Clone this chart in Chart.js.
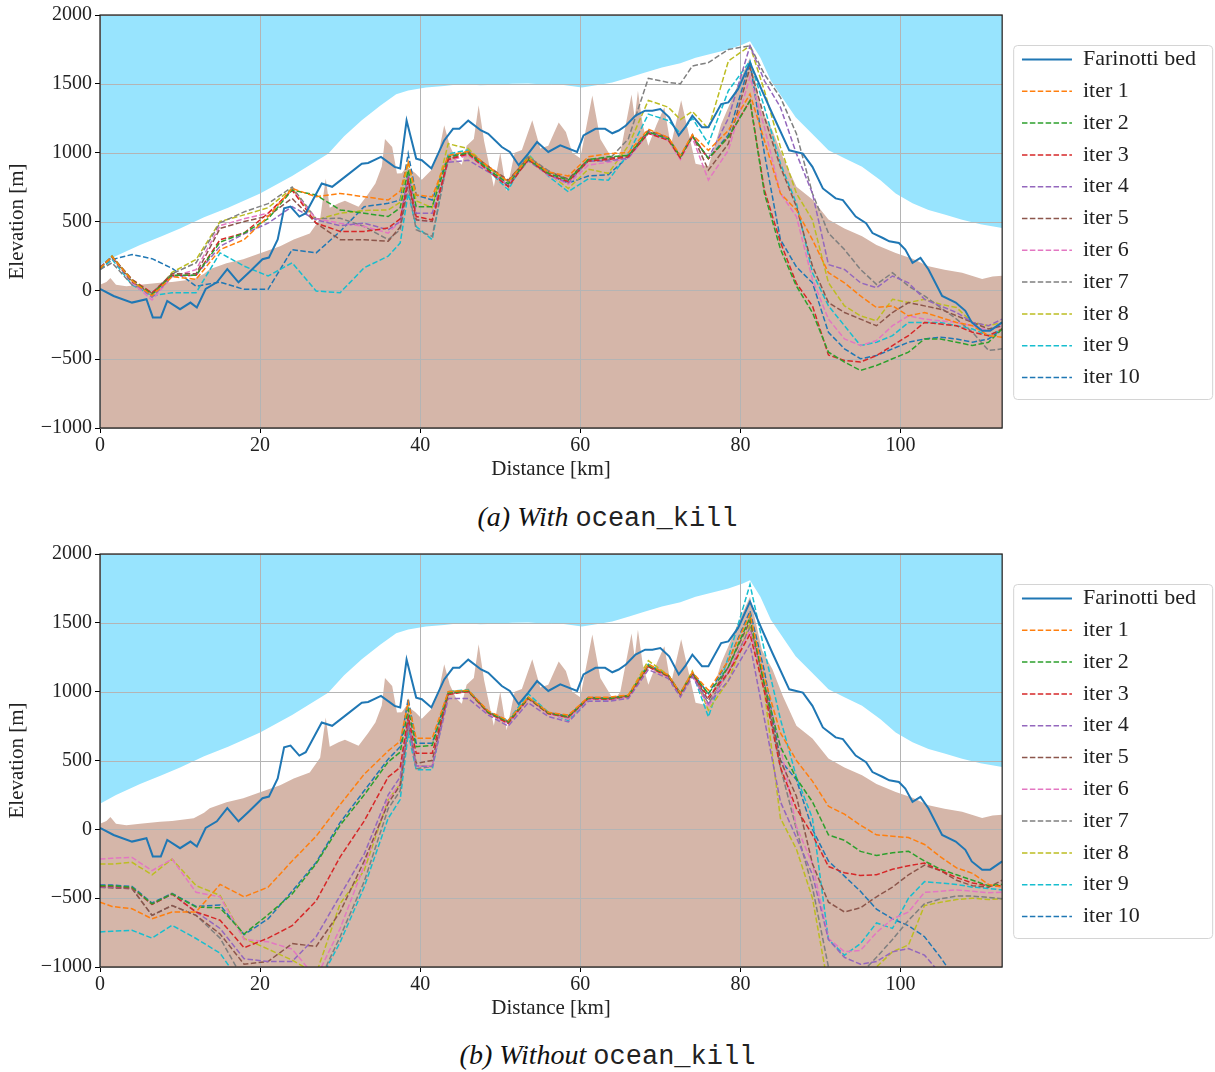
<!DOCTYPE html>
<html>
<head>
<meta charset="utf-8">
<title>Bed inversion profiles</title>
<script src="https://cdn.jsdelivr.net/npm/chart.js@4.4.1/dist/chart.umd.min.js"></script>
<style>
  body { margin: 0; background: #fff; width: 1215px; height: 1072px; position: relative; overflow: hidden; }
  canvas { position: absolute; left: 0; }
  #profileA { top: 0; }
  #profileB { top: 539px; }
  .caption {
    position: absolute; left: 0; width: 1215px; text-align: center;
    font-family: 'Liberation Serif', serif; font-style: italic; font-size: 28px;
    line-height: 32px; color: #111;
  }
  .caption code { font-family: 'Liberation Mono', monospace; font-style: normal; font-size: 27px; color: #222; }
</style>
</head>
<body>
<canvas id="profileA" width="1215" height="486"></canvas>
<div class="caption" style="top:501px">(a) With <code>ocean_kill</code></div>
<canvas id="profileB" width="1215" height="486"></canvas>
<div class="caption" style="top:1039px">(b) Without <code>ocean_kill</code></div>

<script>
// distance along the flowline [km] where the inversion iterates are sampled
const DIST = [0, 1.5, 4, 6.5, 9, 12, 15, 18, 21, 24, 27, 30, 33, 36, 37.5, 38.5, 39.5,
  41.5, 43.5, 46, 48.5, 51, 53.5, 56, 58.5, 61, 63.5, 66, 68.5, 71, 72.5, 74, 76, 78.5, 81.2,
  83, 85, 87, 89, 91, 93, 95, 97, 99, 101, 103, 105, 107, 109, 111, 112.7];

// axis ticks
const DIST_TICKS = [0, 20, 40, 60, 80, 100];
const ELEV_TICKS = [-1000, -500, 0, 500, 1000, 1500, 2000];

// ice surface elevation [m]
const SURF_X = [0, 2, 5, 7.7, 10, 13, 16, 20, 24, 28.5, 30.5, 32.7, 35, 37, 38.5, 40.7, 43, 45.2, 47.5, 49.4,
  51.5, 53.5, 55.5, 57.7, 60.2, 62, 64, 66.1, 68, 70.2, 72.5, 74.4, 76.5, 78.5, 80.3, 81.2, 82.5, 83.8,
  86.9, 89.8, 91, 93, 95.2, 97.5, 99.4, 101.5, 103.5, 105.5, 107.7, 110, 112.7];
const SURF_Y = [185, 250, 330, 392, 450, 530, 600, 704, 830, 993, 1120, 1236, 1340, 1425, 1452, 1474, 1485, 1498, 1490, 1493,
  1500, 1503, 1495, 1493, 1474, 1490, 1510, 1546, 1580, 1618, 1650, 1690, 1720, 1750, 1785, 1810, 1690, 1522,
  1257, 1089, 1017, 960, 897, 800, 704, 632, 584, 550, 512, 480, 452];

// bed topography [m]
const BED_X = [0, 0.8, 1.3, 2, 3.3, 5, 7.5, 9, 11.7, 13, 13.7, 15.8, 17.9, 20, 22.5, 24.2, 26.2, 27.5, 28.2, 28.7,
  29.8, 30.6, 32.3, 33.5, 34.4, 35.2, 35.6, 36.5, 37.1, 37.7, 38.3, 39.4, 40.2, 41.4, 42.3, 43, 43.7, 44.5, 45.2, 45.8,
  46.7, 47.3, 48, 49.2, 50, 50.8, 51.8, 52.7, 54, 55, 56, 57.3, 58.2, 59, 60, 61.5, 62.5, 64.2, 65, 66.4,
  66.8, 67.2, 67.8, 68.5, 69.5, 70.5, 71.3, 72.6, 73.5, 74.4, 76, 77.6, 78.5, 79.7, 81.2, 82.7, 84, 85.3, 87, 89,
  91, 93, 95.2, 97, 99.4, 101.5, 103.5, 105.5, 107.7, 110.2, 111.5, 112.7];
const BED_Y = [40, 60, 90, 40, 30, 40, 55, 60, 80, 120, 154, 197, 226, 269, 320, 370, 413, 520, 812, 600,
  632, 650, 608, 700, 776, 900, 1100, 1041, 848, 850, 900, 850, 803, 875, 1000, 1200, 1050, 950, 912, 1050,
  1100, 1344, 1080, 752, 1000, 720, 1000, 1020, 1236, 1030, 1050, 1220, 1150, 1000, 960, 1416, 1100, 935, 1000, 1423,
  1250, 1450, 1200, 1050, 1200, 1330, 1050, 1380, 1150, 920, 900, 1209, 1329, 1497, 1690, 1300, 1163, 969, 752, 659,
  515, 450, 392, 330, 271, 230, 175, 150, 127, 82, 100, 106];

// Farinotti consensus bed [m]
const FARI_X = [0, 1.7, 4, 5.8, 6.6, 7.6, 8.4, 10, 11.3, 12.1, 13.2, 14.6, 15.9, 17.3, 18.6, 20.3, 21.1, 22.2, 23, 23.8,
  24.9, 25.7, 27.7, 29, 30.6, 32.7, 33.5, 35.1, 36.8, 37.5, 38.3, 39.5, 40.2, 41.4, 43, 44.1, 44.9, 46, 47.6, 48.5,
  50.2, 51.2, 52.3, 53.5, 54.6, 56, 57.5, 59.6, 60.4, 61.9, 63.1, 64, 64.8, 65.7, 66.9, 68.1, 69, 70, 71.1, 72.3,
  73.1, 74, 75.2, 76, 77.6, 78.5, 79.7, 81.2, 82.7, 84, 86.1, 87.8, 89, 90.3, 91.9, 92.8, 94.4, 95.7, 96.5, 97.8,
  98.6, 99.8, 100.6, 101.5, 102.5, 103.5, 105.2, 106.9, 108.1, 108.9, 110.2, 111.2, 112.7];
const FARI_Y = [10, -41, -89, -65, -197, -197, -77, -137, -89, -125, 10, 58, 154, 58, 130, 226, 238, 370, 596, 608,
  536, 560, 776, 752, 824, 920, 925, 969, 897, 885, 1233, 957, 945, 885, 1089, 1173, 1173, 1233, 1161, 1137,
  1041, 1005, 909, 993, 1077, 1005, 1053, 1005, 1125, 1173, 1173, 1141, 1161, 1197, 1269, 1305, 1305, 1317, 1257, 1125,
  1185, 1269, 1185, 1185, 1353, 1365, 1461, 1654, 1450, 1281, 1017, 993, 897, 740, 668, 656, 536, 488, 416, 380,
  356, 344, 296, 200, 236, 151, -41, -89, -149, -233, -293, -293, -233];

// inverted bed per iteration, run with ocean_kill [m]
const withIter1 = [160, 245, 70, -40, 100, 80, 296, 368, 536, 740, 680, 704, 680, 656, 720, 933, 692,
  680, 980, 1010, 900, 790, 960, 860, 830, 970, 993, 1000, 1170, 1110, 980, 1130, 1017, 1161, 1426,
  1089, 704, 584, 368, 128, 55, -41, -125, -113, -185, -161, -197, -233, -257, -329, -341];
const withIter2 = [160, 245, 75, -30, 110, 110, 350, 416, 520, 728, 692, 584, 560, 536, 600, 873, 608,
  608, 970, 1000, 880, 775, 950, 850, 800, 950, 970, 980, 1150, 1100, 970, 1120, 960, 1113, 1378,
  704, 300, 31, -161, -449, -521, -582, -546, -497, -449, -353, -353, -377, -401, -377, -281];
const withIter3 = [160, 245, 80, -20, 110, 110, 368, 416, 560, 728, 488, 428, 428, 452, 520, 801, 536,
  512, 950, 990, 870, 752, 950, 840, 790, 940, 950, 970, 1140, 1090, 960, 1120, 955, 1113, 1378,
  728, 350, 50, -113, -470, -510, -521, -474, -401, -329, -233, -245, -257, -305, -329, -281];
const withIter4 = [165, 245, 70, -50, 100, 110, 320, 410, 488, 608, 512, 470, 488, 440, 500, 850, 560,
  560, 930, 945, 860, 770, 940, 840, 780, 940, 940, 960, 1150, 1100, 965, 1120, 960, 1250, 1776,
  1522, 1330, 993, 704, 187, 152, 55, 19, 104, 55, -65, -113, -161, -233, -257, -209];
const withIter5 = [170, 240, 60, -20, 120, 120, 450, 500, 540, 668, 488, 368, 368, 356, 460, 790, 512,
  500, 950, 1000, 900, 800, 960, 860, 810, 950, 960, 980, 1160, 1110, 970, 1130, 873, 1065, 1618,
  1257, 897, 608, 176, -89, -161, -209, -257, -161, -89, -113, -137, -185, -233, -281, -257];
const withIter6 = [165, 240, 55, -70, 100, 150, 470, 520, 560, 728, 520, 488, 464, 416, 500, 780, 512,
  500, 940, 980, 870, 770, 950, 835, 770, 910, 930, 960, 1140, 1090, 950, 1110, 801, 1017, 1550,
  1185, 704, 536, 79, -209, -353, -401, -365, -257, -185, -209, -221, -233, -257, -293, -257];
const withIter7 = [150, 200, 40, -20, 120, 200, 490, 570, 630, 750, 520, 524, 464, 368, 440, 752, 440,
  392, 960, 1010, 900, 790, 970, 870, 800, 940, 945, 1100, 1540, 1510, 1500, 1630, 1654, 1750, 1776,
  1570, 1402, 1137, 704, 416, 296, 152, 43, 128, 31, -41, -125, -209, -305, -437, -425];
const withIter8 = [160, 250, 70, -40, 130, 224, 500, 548, 600, 740, 512, 560, 580, 584, 640, 933, 650,
  600, 1065, 1030, 890, 790, 980, 850, 740, 880, 850, 1050, 1380, 1330, 1240, 1300, 1173, 1666, 1776,
  1450, 1041, 704, 512, 55, -113, -185, -221, -65, -89, -65, -101, -125, -233, -257, -233];
const withIter9 = [152, 226, 40, -40, -17, -17, 272, 176, 104, 200, -5, -17, 164, 248, 344, 704, 464,
  368, 990, 1020, 870, 730, 990, 830, 716, 810, 800, 990, 1280, 1233, 1140, 1250, 1065, 1450, 1666,
  1330, 921, 632, 128, -113, -257, -401, -377, -329, -233, -233, -233, -257, -281, -329, -281];
const withIter10 = [152, 224, 260, 230, 160, 30, 60, 7, 7, 296, 272, 428, 608, 632, 656, 993, 692,
  656, 975, 1000, 880, 760, 960, 840, 780, 830, 840, 970, 1150, 1100, 970, 1120, 957, 1130, 1654,
  993, 368, 170, 55, -305, -425, -497, -474, -425, -377, -353, -341, -353, -377, -353, -281];

// inverted bed per iteration, run without ocean_kill [m]
const withoutIter1 = [-529, -560, -577, -650, -600, -600, -400, -490, -420, -230, -50, 180, 400, 570, 640, 926, 661,
  661, 1000, 1010, 860, 790, 960, 850, 830, 960, 960, 975, 1200, 1120, 990, 1140, 1010, 1225, 1562,
  1100, 700, 500, 350, 168, 110, 30, -40, -50, -60, -110, -200, -280, -320, -400, -420];
const withoutIter2 = [-410, -410, -421, -541, -469, -565, -570, -760, -620, -470, -250, 30, 250, 490, 560, 873, 600,
  610, 990, 1005, 850, 780, 955, 845, 820, 955, 950, 970, 1190, 1115, 985, 1135, 985, 1180, 1540,
  1050, 600, 370, 200, -40, -80, -160, -190, -170, -160, -230, -290, -330, -370, -410, -400];
const withoutIter3 = [-415, -415, -425, -545, -470, -600, -660, -860, -790, -700, -520, -200, 60, 380, 450, 820, 553,
  553, 980, 1000, 845, 770, 950, 840, 815, 950, 945, 965, 1180, 1110, 980, 1130, 961, 1137, 1418,
  1000, 450, 150, -40, -270, -315, -335, -330, -290, -264, -245, -300, -350, -390, -410, -409];
const withoutIter4 = [-420, -420, -425, -545, -470, -600, -720, -940, -960, -960, -780, -480, -180, 250, 380, 800, 460,
  457, 950, 950, 830, 750, 920, 820, 780, 930, 930, 950, 1160, 1095, 960, 1110, 913, 1080, 1346,
  800, 200, -60, -330, -800, -930, -980, -960, -890, -866, -914, -1050, -1200, -1200, -1200, -1200];
const withoutIter5 = [-420, -425, -430, -625, -553, -625, -760, -980, -960, -830, -850, -600, -230, 190, 320, 780, 480,
  500, 985, 1005, 850, 780, 955, 845, 815, 955, 950, 970, 1190, 1115, 985, 1135, 937, 1180, 1514,
  1050, 500, 240, -250, -529, -600, -570, -490, -420, -330, -260, -300, -370, -410, -420, -370];
const withoutIter6 = [-216, -210, -204, -300, -216, -457, -490, -800, -817, -870, -1080, -720, -264, 216, 330, 780, 460,
  457, 990, 1000, 840, 770, 950, 840, 800, 945, 940, 960, 1180, 1105, 975, 1125, 889, 1155, 1442,
  1050, 600, 20, -250, -793, -889, -880, -750, -650, -601, -457, -450, -440, -450, -460, -457];
const withoutIter7 = [-420, -425, -430, -625, -553, -625, -790, -1100, -1150, -1150, -1150, -780, -380, 150, 280, 752, 440,
  457, 990, 1005, 845, 775, 955, 845, 810, 950, 945, 965, 1185, 1110, 980, 1130, 913, 1137, 1466,
  1050, 450, 0, -420, -1000, -1100, -1050, -930, -800, -660, -540, -505, -485, -485, -495, -505];
const withoutIter8 = [-252, -252, -240, -330, -216, -409, -480, -793, -870, -950, -1050, -540, -300, 216, 330, 780, 460,
  457, 1000, 1010, 850, 780, 960, 850, 800, 950, 945, 975, 1225, 1120, 990, 1150, 865, 1080, 1490,
  1000, 80, -144, -500, -1150, -1150, -1100, -1000, -889, -840, -553, -530, -510, -500, -510, -505];
const withoutIter9 = [-745, -740, -733, -790, -697, -793, -900, -1150, -1200, -1200, -1150, -820, -420, 80, 216, 697, 433,
  433, 1000, 1015, 850, 790, 985, 850, 790, 945, 940, 960, 1200, 1120, 990, 1140, 817, 1250, 1779,
  1300, 800, 380, 80, -800, -914, -830, -680, -720, -500, -380, -390, -400, -420, -430, -440];
const withoutIter10 = [-405, -405, -415, -535, -465, -560, -550, -765, -650, -450, -240, 50, 280, 510, 600, 950, 625,
  625, 995, 1005, 855, 785, 958, 848, 822, 958, 952, 972, 1195, 1118, 988, 1138, 985, 1225, 1586,
  1150, 500, 360, 0, -230, -340, -450, -580, -650, -700, -780, -930, -1100, -1200, -1200, -1200];

// matplotlib tab10 cycle, iter 10 wraps back to the first colour
const ITER_COLORS = ['#ff7f0e', '#2ca02c', '#d62728', '#9467bd', '#8c564b',
  '#e377c2', '#7f7f7f', '#bcbd22', '#17becf', '#1f77b4'];
const SKY = '#98e4fe';
const ROCK = '#d5b6a9';

Chart.defaults.font.family = "'Liberation Serif', 'DejaVu Serif', serif";
Chart.defaults.color = '#222';

function points(xs, ys) {
  return xs.map((x, i) => ({ x: x, y: ys[i] }));
}

// legend samples take width and dash from the dataset line, not from its points
function lineLabels(chart) {
  const items = Chart.defaults.plugins.legend.labels.generateLabels(chart);
  return items.filter(item => item.datasetIndex <= 10).map(item => {
    const ds = chart.data.datasets[item.datasetIndex];
    item.strokeStyle = ds.borderColor;
    item.fillStyle = ds.borderColor;
    item.lineWidth = ds.borderWidth;
    item.lineDash = ds.borderDash || [];
    item.lineDashOffset = 0;
    item.pointStyle = 'line';
    return item;
  });
}

// grid goes on top of the filled areas but under the profile lines
const overlayGrid = {
  id: 'overlayGrid',
  afterDatasetDraw(chart, args) {
    if (chart.data.datasets[args.index].label !== 'bed') return;
    const { ctx, chartArea: a, scales: { x, y } } = chart;
    ctx.save();
    ctx.strokeStyle = '#b4b4b4';
    ctx.lineWidth = 1;
    ctx.beginPath();
    x.ticks.forEach(t => {
      const px = Math.round(x.getPixelForValue(t.value)) + 0.5;
      ctx.moveTo(px, a.top);
      ctx.lineTo(px, a.bottom);
    });
    y.ticks.forEach(t => {
      const py = Math.round(y.getPixelForValue(t.value)) + 0.5;
      ctx.moveTo(a.left, py);
      ctx.lineTo(a.right, py);
    });
    ctx.stroke();
    ctx.restore();
  }
};

// keep the legend next to the axes and centred on the plot area
const legendBeside = {
  id: 'legendBeside',
  afterLayout(chart) {
    const lg = chart.legend, a = chart.chartArea;
    lg.left = a.right + 10;
    lg.right = lg.left + lg.width + 10;
    lg.top = a.top - 4;
    lg.bottom = a.bottom - 2;
  }
};

// black spines round the axes and the rounded legend frame
const axesFrame = {
  id: 'axesFrame',
  afterDraw(chart) {
    const { ctx, chartArea: a, legend } = chart;
    ctx.save();
    ctx.strokeStyle = '#1a1a1a';
    ctx.lineWidth = 1.2;
    ctx.strokeRect(a.left, a.top, a.right - a.left, a.bottom - a.top);

    const fx = legend.left + 1.5, fy = a.top + 30.5, fw = 199, fh = 354, r = 4;
    ctx.strokeStyle = '#d4d4d4';
    ctx.lineWidth = 1;
    ctx.beginPath();
    ctx.roundRect(fx, fy, fw, fh, r);
    ctx.stroke();
    ctx.restore();
  }
};

function makeProfile(canvasId, iters) {
  const datasets = [{
    label: 'Farinotti bed',
    data: points(FARI_X, FARI_Y),
    borderColor: '#1f77b4',
    backgroundColor: '#1f77b4',
    borderWidth: 2,
    pointRadius: 0,
    fill: false
  }];
  iters.forEach((ys, i) => {
    datasets.push({
      label: 'iter ' + (i + 1),
      data: points(DIST, ys),
      borderColor: ITER_COLORS[i],
      backgroundColor: ITER_COLORS[i],
      borderWidth: 1.5,
      borderDash: [5.5, 2.4],
      pointRadius: 0,
      fill: false
    });
  });
  datasets.push({
    label: 'bed',
    data: points(BED_X, BED_Y),
    borderColor: 'rgba(0,0,0,0)',
    borderWidth: 1,
    backgroundColor: ROCK,
    pointRadius: 0,
    fill: 'start'
  });
  datasets.push({
    label: 'surface',
    data: points(SURF_X, SURF_Y),
    borderColor: 'rgba(0,0,0,0)',
    borderWidth: 1,
    backgroundColor: SKY,
    pointRadius: 0,
    fill: 'end'
  });

  const tickFont = { size: 20 };
  const titleFont = { size: 21 };

  new Chart(document.getElementById(canvasId), {
    type: 'line',
    data: { datasets: datasets },
    options: {
      responsive: false,
      animation: false,
      events: [],
      elements: { line: { tension: 0 } },
      layout: { padding: { top: 12, right: 19, bottom: 0, left: 0 } },
      scales: {
        x: {
          type: 'linear',
          min: 0,
          max: 112.7,
          afterBuildTicks: s => { s.ticks = DIST_TICKS.map(v => ({ value: v })); },
          afterFit: s => { s.height = 58; },
          grid: { drawOnChartArea: false, color: '#000', tickLength: 5 },
          border: { display: false },
          ticks: { font: tickFont, color: '#222', padding: 1, maxRotation: 0, autoSkip: false },
          title: { display: true, text: 'Distance [km]', font: titleFont, color: '#222', padding: { top: 0, bottom: 4 } }
        },
        y: {
          type: 'linear',
          min: -1000,
          max: 2000,
          afterBuildTicks: s => { s.ticks = ELEV_TICKS.map(v => ({ value: v })); },
          afterFit: s => { s.width = 100; },
          grid: { drawOnChartArea: false, color: '#000', tickLength: 5 },
          border: { display: false },
          ticks: {
            font: tickFont, color: '#222', padding: 3, autoSkip: false,
            callback: v => v < 0 ? '\u2212' + Math.abs(v) : String(v)
          },
          title: { display: true, text: 'Elevation [m]', font: titleFont, color: '#222', padding: { top: 5, bottom: 0 } }
        }
      },
      plugins: {
        tooltip: { enabled: false },
        filler: { propagate: false },
        legend: {
          position: 'right',
          labels: {
            generateLabels: lineLabels,
            usePointStyle: true,
            pointStyle: 'line',
            pointStyleWidth: 50,
            boxHeight: 2,
            padding: 9.8,
            color: '#222',
            font: { size: 22 }
          }
        }
      }
    },
    plugins: [overlayGrid, legendBeside, axesFrame]
  });
}

makeProfile('profileA', [withIter1, withIter2, withIter3, withIter4, withIter5,
  withIter6, withIter7, withIter8, withIter9, withIter10]);
makeProfile('profileB', [withoutIter1, withoutIter2, withoutIter3, withoutIter4, withoutIter5,
  withoutIter6, withoutIter7, withoutIter8, withoutIter9, withoutIter10]);
</script>
</body>
</html>
